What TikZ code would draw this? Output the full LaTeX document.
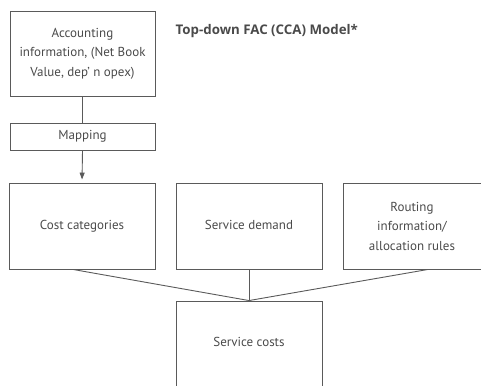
\documentclass[tikz,border=0pt]{standalone}
\usepackage{fontspec}
\setmainfont{PT Sans}
\newfontfamily\titlefont{Open Sans}
\usetikzlibrary{arrows.meta,calc}
\definecolor{ln}{HTML}{5A5A5A}
\definecolor{tx}{HTML}{4A4A4A}
\begin{document}
\begin{tikzpicture}[x=1pt,y=-1pt,
  box/.style={draw=ln,line width=0.9pt,rectangle,inner sep=0pt,align=center,
    text=tx,font=\fontsize{13}{19.5}\selectfont},
  one/.style={text height=9pt,text depth=3pt},
  conn/.style={draw=ln,line width=0.9pt}]
\useasboundingbox (0,0) rectangle (481,385);
\node[box,minimum width=145,minimum height=85] (acc) at (82.5,53.5) {Accounting\\information, (Net Book\\Value, dep’ n opex)};
\node[box,one,minimum width=145,minimum height=27] (map) at (82.5,136.5) {Mapping};
\node[box,one,minimum width=146,minimum height=86] (cost) at (82,226) {Cost categories};
\node[box,one,minimum width=146,minimum height=86] (dem) at (249,226) {Service demand};
\node[box,minimum width=138,minimum height=86] (rout) at (412,226) {Routing\\information/\\allocation rules};
\node[box,minimum width=146,minimum height=88] (sc) at (249,345) {};
\node[text=tx,font=\fontsize{13}{15}\selectfont,text height=9pt,text depth=3pt] (scl) at (249,343) {Service costs};
\node[text=tx,font=\titlefont\bfseries\fontsize{13.3}{15}\selectfont,anchor=west,inner sep=0pt] (title) at (175.5,31) {Top-down FAC (CCA) Model*};
\draw[conn] (acc.south) -- (map.north);
\draw[conn,-{Triangle[length=7pt,width=5pt]},shorten >=3pt] (map.south) -- (cost.north);
\draw[conn] ($(cost.south)+(-9,0)$) -- (sc.north);
\draw[conn] (dem.south) -- (sc.north);
\draw[conn] ($(rout.south)+(16,0)$) -- (sc.north);
\end{tikzpicture}
\end{document}
